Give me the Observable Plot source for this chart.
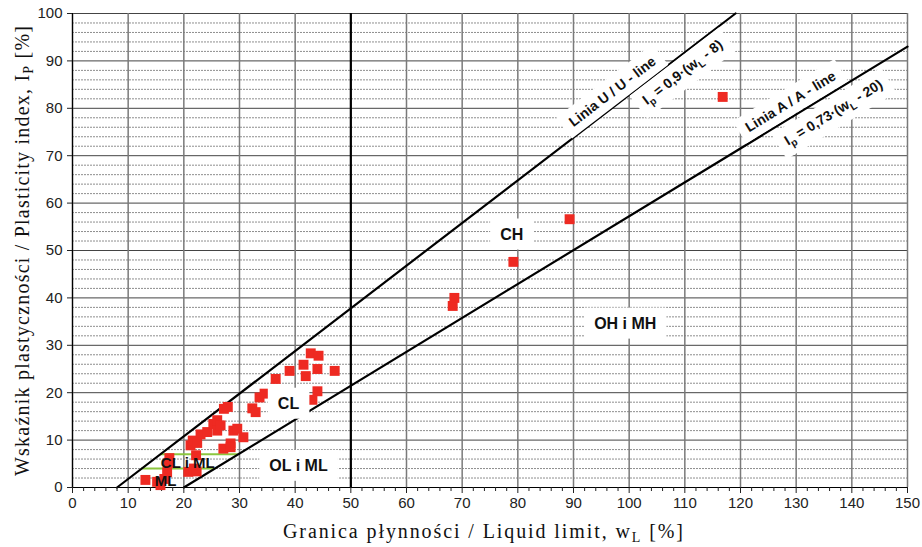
<!DOCTYPE html>
<html><head><meta charset="utf-8">
<script src="https://cdn.jsdelivr.net/npm/d3@7"></script>
<script src="https://cdn.jsdelivr.net/npm/@observablehq/plot@0.6"></script>
<style>body{margin:0;background:#fff} svg{display:block}</style>
</head><body><div id="chart"></div>
<script>
// ---- data ----
const sampleWL = [13.1,15.2,15.8,16.5,17.0,17.2,17.4,
  20.8,21.8,22.3,22.2,21.2,21.6,22.4,23.0,24.2,25.3,26.0,26.0,26.6,27.2,27.9,27.1,28.4,28.4,28.9,29.6,30.7,
  32.3,32.9,33.6,34.5,36.5,39.0,41.5,41.9,42.8,44.2,44.0,47.1,44.0,43.1,
  68.3,68.6,79.2,89.3,116.8];
const sampleIP = [1.6,1.2,0.5,1.8,3.2,5.2,6.2,
  3.3,4.0,3.4,6.8,8.9,9.9,9.4,11.2,11.7,13.4,12.0,14.2,13.1,16.6,17.0,8.2,9.3,8.5,12.0,12.4,10.6,
  16.7,15.9,19.0,19.8,22.9,24.6,25.9,23.5,28.3,27.8,25.0,24.6,20.3,18.5,
  38.3,40.0,47.6,56.6,82.4];

const uLineWL = [8, 119.1];
const uLineIP = [0, 100];
const aLineWL = [20, 150];
const aLineIP = [0, 93];

const greenLevelsIP = [4, 7];
const greenStartWL = [12.4, 15.8];
const greenEndWL = [25.6, 29.8];

const regionLabels = ["CH", "OH i MH", "CL", "OL i ML"];
const regionWL = [78.9, 99.3, 38.8, 40.6];
const regionIP = [53.4, 34.6, 17.7, 4.6];

const smallLabels = ["CL i ML", "ML"];
const smallWL = [20.7, 16.7];
const smallIP = [5.1, 1.3];

const uLabels = ["Linia U / U - line", "I_p = 0,9·(w_L - 8)"];
const uLabelWL = [97.0, 109.6];
const uLabelIP = [83.5, 87.6];
const aLabels = ["Linia A / A - line", "I_p = 0,73·(w_L - 20)"];
const aLabelWL = [129.0, 136.7];
const aLabelIP = [81.4, 79.1];

const xMajorTicks = [0,10,20,30,40,50,60,70,80,90,100,110,120,130,140,150];
const xMinorTicks = [2,4,6,8,12,14,16,18,22,24,26,28,32,34,36,38,42,44,46,48,52,54,56,58,62,64,66,68,72,74,76,78,82,84,86,88,92,94,96,98,102,104,106,108,112,114,116,118,122,124,126,128,132,134,136,138,142,144,146,148];
const yMajorTicks = [0,10,20,30,40,50,60,70,80,90,100];
const yMinorTicks = [2,4,6,8,12,14,16,18,22,24,26,28,32,34,36,38,42,44,46,48,52,54,56,58,62,64,66,68,72,74,76,78,82,84,86,88,92,94,96,98];
const dividerWL = [50];

const idx = (arr) => arr.map((_, i) => i);

const chart = Plot.plot({
  width: 922, height: 547,
  marginLeft: 72, marginRight: 15, marginTop: 13, marginBottom: 60,
  x: {domain: [0, 150]},
  y: {domain: [0, 100]},
  style: {fontFamily: "'Liberation Sans', Arial, sans-serif", fontSize: "15px", background: "white", color: "#222"},
  marks: [
    Plot.gridY(yMinorTicks, {stroke: "#707070", strokeOpacity: 1, strokeWidth: 0.8, strokeDasharray: "2,1"}),
    Plot.gridY(yMajorTicks, {stroke: "#444", strokeOpacity: 1, strokeWidth: 1}),
    Plot.gridX(xMajorTicks, {stroke: "#7a7a7a", strokeOpacity: 1, strokeWidth: 1.5}),
    Plot.ruleX(dividerWL, {stroke: "black", strokeWidth: 2.2}),
    Plot.ruleY(idx(greenLevelsIP), {y: i => greenLevelsIP[i], x1: i => greenStartWL[i], x2: i => greenEndWL[i], stroke: "#8cc63e", strokeWidth: 2}),
    Plot.line(idx(uLineWL), {x: i => uLineWL[i], y: i => uLineIP[i], stroke: "black", strokeWidth: 2.2}),
    Plot.line(idx(aLineWL), {x: i => aLineWL[i], y: i => aLineIP[i], stroke: "black", strokeWidth: 2.2}),
    Plot.ruleY([0], {stroke: "black", strokeWidth: 1.2}),
    Plot.ruleX([0], {stroke: "black", strokeWidth: 1.2}),
    Plot.axisX(xMajorTicks, {tickSize: 6, tickPadding: 4, label: null}),
    Plot.axisX(xMinorTicks, {tickSize: 4, tickFormat: () => "", label: null}),
    Plot.axisY(yMajorTicks, {tickSize: 5, tickPadding: 5, label: null}),
    Plot.dot(idx(sampleWL), {x: i => sampleWL[i], y: i => sampleIP[i], symbol: "square", r: 5.6, fill: "#ee2a22", stroke: "none"}),
    // boxed labels (text groups 0..2)
    Plot.text(idx(regionLabels), {x: i => regionWL[i], y: i => regionIP[i], text: i => regionLabels[i], fontWeight: "bold", fontSize: 16, fill: "#111"}),
    Plot.text(idx(uLabels), {x: i => uLabelWL[i], y: i => uLabelIP[i], text: i => uLabels[i], rotate: -37.5, fontWeight: "bold", fontSize: 14, fill: "#111"}),
    Plot.text(idx(aLabels), {x: i => aLabelWL[i], y: i => aLabelIP[i], text: i => aLabels[i], rotate: -31.5, fontWeight: "bold", fontSize: 14, fill: "#111"}),
    // unboxed labels
    Plot.text(idx(smallLabels), {x: i => smallWL[i], y: i => smallIP[i], text: i => smallLabels[i], fontWeight: "bold", fontSize: 15, fill: "#111"})
  ]
});
document.getElementById("chart").append(chart);

const NS = "http://www.w3.org/2000/svg";
function subscriptify(t, shift) {
  const s = t.textContent;
  if (!s.includes("_")) return;
  t.textContent = "";
  let buf = "", pendingUp = false;
  const flush = () => {
    if (!buf && !pendingUp) return;
    const sp = document.createElementNS(NS, "tspan");
    if (pendingUp) { sp.setAttribute("dy", -shift); pendingUp = false; }
    sp.textContent = buf; t.appendChild(sp); buf = "";
  };
  for (let k = 0; k < s.length; k++) {
    if (s[k] === "_" && k + 1 < s.length) {
      flush();
      const sub = document.createElementNS(NS, "tspan");
      sub.setAttribute("dy", shift);
      sub.setAttribute("font-size", "72%");
      sub.textContent = s[k + 1];
      t.appendChild(sub);
      pendingUp = true; k++;
    } else buf += s[k];
  }
  flush();
}
const groups = chart.querySelectorAll('g[aria-label="text"]');
groups.forEach((g, gi) => {
  g.querySelectorAll("text").forEach(t => {
    subscriptify(t, 4);
    if (gi <= 2) {
      const b = t.getBBox();
      const padX = gi === 0 ? 10 : 8, padY = gi === 0 ? 7 : 5;
      const r = document.createElementNS(NS, "rect");
      r.setAttribute("x", b.x - padX); r.setAttribute("y", b.y - padY);
      r.setAttribute("width", b.width + 2 * padX); r.setAttribute("height", b.height + 2 * padY);
      r.setAttribute("fill", "white"); r.setAttribute("stroke", "none");
      const tr = t.getAttribute("transform"); if (tr) r.setAttribute("transform", tr);
      g.insertBefore(r, t);
    }
  });
});

const s = d3.select(chart);
const serif = "'Liberation Serif', 'Times New Roman', serif";
const xt = s.append("text").attr("x", 483).attr("y", 538).attr("text-anchor", "middle")
  .attr("font-family", serif).attr("font-size", 20).attr("fill", "#111")
  .attr("textLength", 400).attr("lengthAdjust", "spacing");
xt.append("tspan").text("Granica płynności / Liquid limit, w");
xt.append("tspan").attr("dy", 4).attr("font-size", 14).text("L");
xt.append("tspan").attr("dy", -4).text(" [%]");
const yt = s.append("text").attr("transform", "translate(29,251) rotate(-90)").attr("text-anchor", "middle")
  .attr("font-family", serif).attr("font-size", 20).attr("fill", "#111")
  .attr("textLength", 450).attr("lengthAdjust", "spacing");
yt.append("tspan").text("Wskaźnik plastyczności / Plasticity index, I");
yt.append("tspan").attr("dy", 4).attr("font-size", 14).text("P");
yt.append("tspan").attr("dy", -4).text(" [%]");
</script></body></html>
